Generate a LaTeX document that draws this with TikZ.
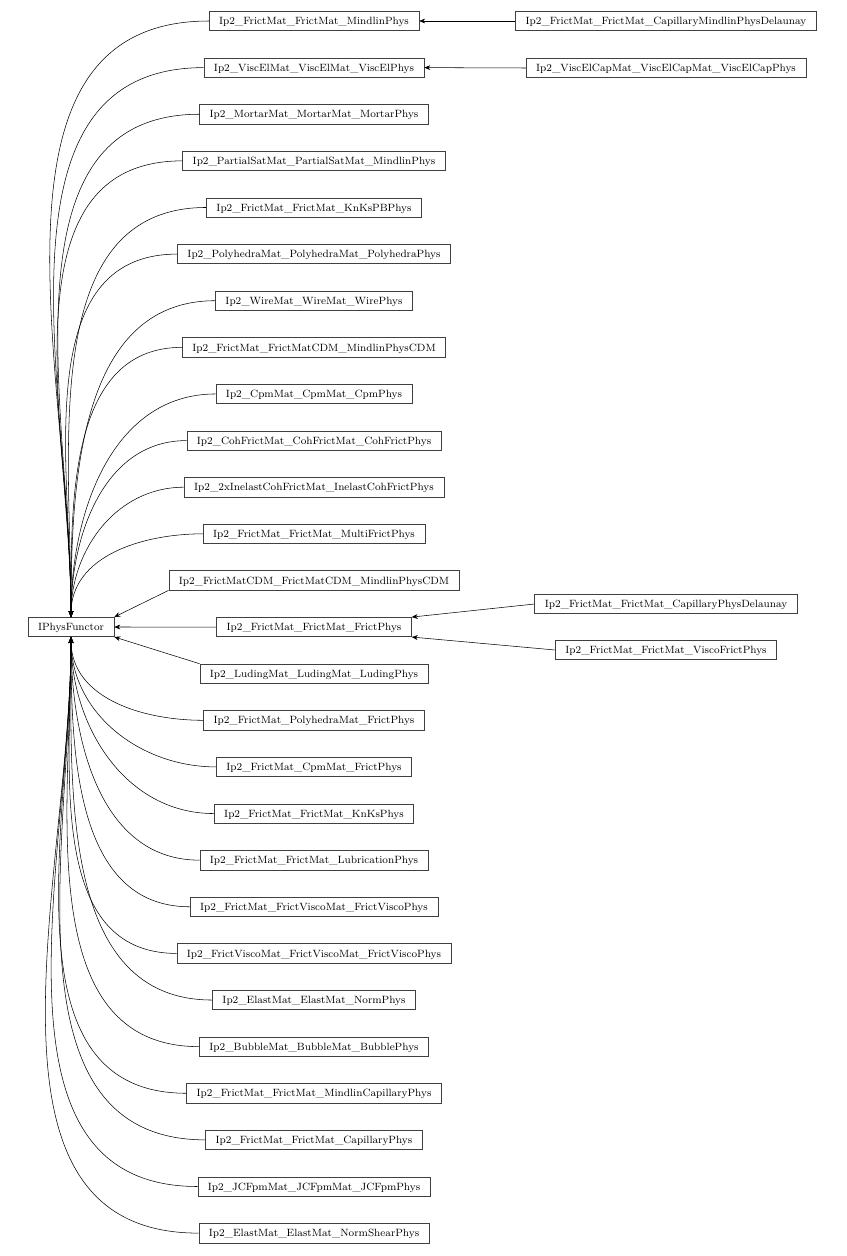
\documentclass[tikz,border=0pt]{standalone}
\usetikzlibrary{arrows.meta}
\begin{document}
\begin{tikzpicture}[x=0.75pt,y=-0.75pt,
  cls/.style={draw=black!75,line width=0.45pt,fill=white,font=\fontsize{7.9}{9}\selectfont,inner sep=0pt,minimum height=14.5pt,text depth=0pt,inner xsep=7.5pt},
  inh/.style={-{Stealth[length=4.5pt,width=3.6pt]},line width=0.4pt}]
\useasboundingbox (0,0) rectangle (846,1256);
\node[cls] (base) at (71,627) {IPhysFunctor};
\foreach \i/\t in {1/Ip2\_FrictMat\_FrictMat\_MindlinPhys,2/Ip2\_ViscElMat\_ViscElMat\_ViscElPhys,3/Ip2\_MortarMat\_MortarMat\_MortarPhys,4/Ip2\_PartialSatMat\_PartialSatMat\_MindlinPhys,5/Ip2\_FrictMat\_FrictMat\_KnKsPBPhys,6/Ip2\_PolyhedraMat\_PolyhedraMat\_PolyhedraPhys,7/Ip2\_WireMat\_WireMat\_WirePhys,8/Ip2\_FrictMat\_FrictMatCDM\_MindlinPhysCDM,9/Ip2\_CpmMat\_CpmMat\_CpmPhys,10/Ip2\_CohFrictMat\_CohFrictMat\_CohFrictPhys,11/Ip2\_2xInelastCohFrictMat\_InelastCohFrictPhys,12/Ip2\_FrictMat\_FrictMat\_MultiFrictPhys,13/Ip2\_FrictMatCDM\_FrictMatCDM\_MindlinPhysCDM,14/Ip2\_FrictMat\_FrictMat\_FrictPhys,15/Ip2\_LudingMat\_LudingMat\_LudingPhys,16/Ip2\_FrictMat\_PolyhedraMat\_FrictPhys,17/Ip2\_FrictMat\_CpmMat\_FrictPhys,18/Ip2\_FrictMat\_FrictMat\_KnKsPhys,19/Ip2\_FrictMat\_FrictMat\_LubricationPhys,20/Ip2\_FrictMat\_FrictViscoMat\_FrictViscoPhys,21/Ip2\_FrictViscoMat\_FrictViscoMat\_FrictViscoPhys,22/Ip2\_ElastMat\_ElastMat\_NormPhys,23/Ip2\_BubbleMat\_BubbleMat\_BubblePhys,24/Ip2\_FrictMat\_FrictMat\_MindlinCapillaryPhys,25/Ip2\_FrictMat\_FrictMat\_CapillaryPhys,26/Ip2\_JCFpmMat\_JCFpmMat\_JCFpmPhys,27/Ip2\_ElastMat\_ElastMat\_NormShearPhys}{
  \node[cls] (n\i) at (314,{21+(\i-1)*46.62}) {\t};
}
\foreach \i in {1,...,12}{\draw[inh] (n\i.west) to[out=180,in=90] (base.north);}
\foreach \i in {16,...,27}{\draw[inh] (n\i.west) to[out=180,in=-90] (base.south);}
\draw[inh] (n13.south west) -- (base.north east);
\draw[inh] (n14.west) -- (base.east);
\draw[inh] (n15.north west) -- (base.south east);
\node[cls] (r1) at (666,21) {Ip2\_FrictMat\_FrictMat\_CapillaryMindlinPhysDelaunay};
\node[cls] (r2) at (666,68) {Ip2\_ViscElCapMat\_ViscElCapMat\_ViscElCapPhys};
\node[cls] (r3) at (666,604) {Ip2\_FrictMat\_FrictMat\_CapillaryPhysDelaunay};
\node[cls] (r4) at (666,650) {Ip2\_FrictMat\_FrictMat\_ViscoFrictPhys};
\draw[inh] (r1.west) -- (n1.east);
\draw[inh] (r2.west) -- (n2.east);
\draw[inh] (r3.west) -- (n14.north east);
\draw[inh] (r4.west) -- (n14.south east);
\end{tikzpicture}
\end{document}
